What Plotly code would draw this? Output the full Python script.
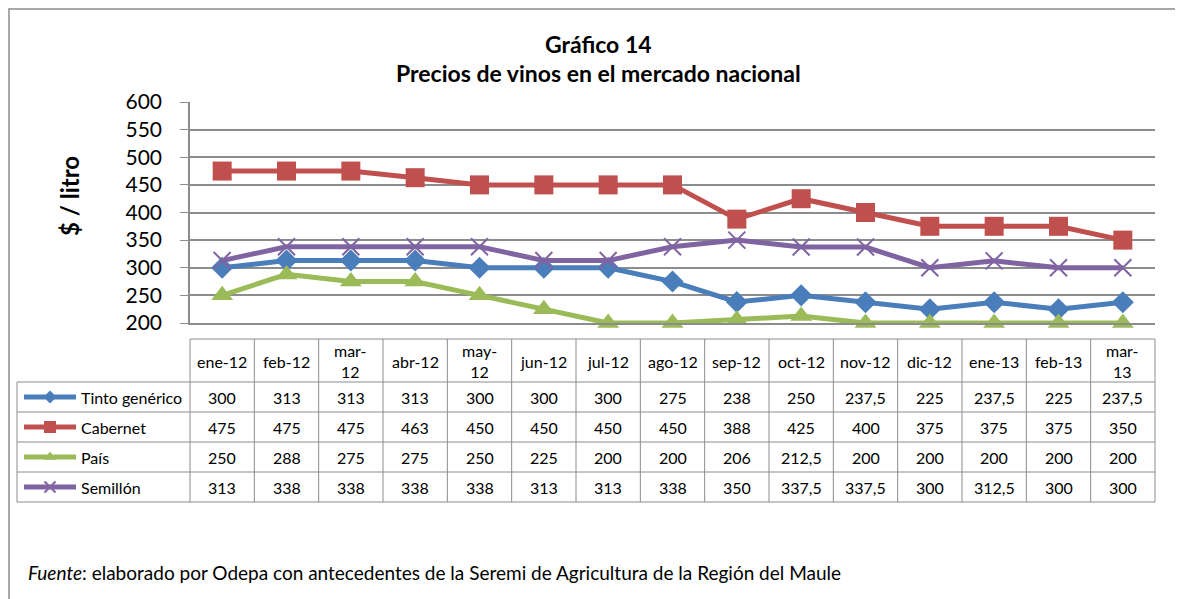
import plotly.graph_objects as go

W, H = 1183, 599
OFF = 8  # page body margin offset of the html page

months = ["ene-12", "feb-12", "mar-12", "abr-12", "may-12", "jun-12", "jul-12", "ago-12",
          "sep-12", "oct-12", "nov-12", "dic-12", "ene-13", "feb-13", "mar-13"]
header_labels = ["ene-12", "feb-12", "mar-<br>12", "abr-12", "may-<br>12", "jun-12", "jul-12", "ago-12",
                 "sep-12", "oct-12", "nov-12", "dic-12", "ene-13", "feb-13", "mar-<br>13"]

tinto = [300, 313, 313, 313, 300, 300, 300, 275, 238, 250, 237.5, 225, 237.5, 225, 237.5]
cabernet = [475, 475, 475, 463, 450, 450, 450, 450, 388, 425, 400, 375, 375, 375, 350]
pais = [250, 288, 275, 275, 250, 225, 200, 200, 206, 212.5, 200, 200, 200, 200, 200]
semillon = [313, 338, 338, 338, 338, 313, 313, 338, 350, 337.5, 337.5, 300, 312.5, 300, 300]

series_names = ["Tinto genérico", "Cabernet", "País", "Semillón"]
series_values = [tinto, cabernet, pais, semillon]
colors = ["#4A7EBB", "#C0504D", "#9BBB59", "#8064A2"]
symbols = ["diamond", "square", "triangle-up", "x-thin"]
msizes = [17, 19, 19, 17]
key_sizes = [10, 12, 11, 11]

FONT = "Lato, 'Open Sans', sans-serif"
GRID = "#8C8C8C"


def px_x(p):
    return (p - OFF) / W


def px_y(p):
    return 1 - (p - OFF) / H


def fmt(v):
    if float(v).is_integer():
        return str(int(v))
    return str(v).replace(".", ",")


fig = go.Figure()

for name, vals, col, sym, ms in zip(series_names, series_values, colors, symbols, msizes):
    if sym == "x-thin":
        marker = dict(symbol=sym, size=ms, color=col, line=dict(color=col, width=2))
    else:
        marker = dict(symbol=sym, size=ms, color=col, line=dict(width=0))
    fig.add_trace(go.Scatter(
        x=list(range(len(months))), y=vals, name=name, mode="lines+markers",
        line=dict(color=col, width=5), marker=marker, cliponaxis=False,
        showlegend=False, xaxis="x", yaxis="y"))

# legend keys of the data table, drawn in a full-page pixel-space axis
row_centers = [397, 427, 457, 487]
for name, col, sym, ks, rc in zip(series_names, colors, symbols, key_sizes, row_centers):
    if sym == "x-thin":
        marker = dict(symbol=sym, size=ks, color=col, line=dict(color=col, width=2))
    else:
        marker = dict(symbol=sym, size=ks, color=col, line=dict(width=0))
    fig.add_trace(go.Scatter(x=[24, 76], y=[rc, rc], mode="lines", line=dict(color=col, width=5),
                             showlegend=False, xaxis="x2", yaxis="y2", hoverinfo="skip"))
    fig.add_trace(go.Scatter(x=[50], y=[rc], mode="markers", marker=marker,
                             showlegend=False, xaxis="x2", yaxis="y2", hoverinfo="skip"))

annotations = []
annotations.append(dict(text="<b>Gráfico 14</b>", x=px_x(598), y=px_y(44), xref="paper", yref="paper",
                        showarrow=False, font=dict(family=FONT, size=23, color="black"),
                        xanchor="center", yanchor="middle"))
annotations.append(dict(text="<b>Precios de vinos en el mercado nacional</b>", x=px_x(598), y=px_y(73),
                        xref="paper", yref="paper", showarrow=False,
                        font=dict(family=FONT, size=23, color="black"), xanchor="center", yanchor="middle"))
annotations.append(dict(text="<b>$ / litro</b>", x=px_x(69), y=px_y(196), xref="paper", yref="paper",
                        showarrow=False, textangle=-90, font=dict(family=FONT, size=24, color="black"),
                        xanchor="center", yanchor="middle"))
for i, lab in enumerate(header_labels):
    annotations.append(dict(text=lab, x=i, y=px_y(361), xref="x", yref="paper", showarrow=False,
                            font=dict(family=FONT, size=16, color="black"), xanchor="center",
                            yanchor="middle"))
for name, vals, rc in zip(series_names, series_values, row_centers):
    annotations.append(dict(text=name, x=px_x(79), y=px_y(rc), xref="paper", yref="paper",
                            showarrow=False, font=dict(family=FONT, size=16, color="black"),
                            xanchor="left", yanchor="middle"))
    for i, v in enumerate(vals):
        annotations.append(dict(text=fmt(v), x=i, y=px_y(rc), xref="x", yref="paper", showarrow=False,
                                font=dict(family=FONT, size=16, color="black"), xanchor="center",
                                yanchor="middle"))
annotations.append(dict(text="<i>Fuente</i>: elaborado por Odepa con antecedentes de la Seremi de Agricultura de la Región del Maule",
                        x=px_x(26), y=px_y(572), xref="paper", yref="paper", showarrow=False,
                        font=dict(family=FONT, size=19, color="black"), xanchor="left", yanchor="middle"))

shapes = []
shapes.append(dict(type="rect", xref="paper", yref="paper", x0=px_x(9), y0=px_y(9), x1=px_x(1250),
                   y1=px_y(700), line=dict(color="#8C8C8C", width=1.5)))
left_tab, x_start, x_end = 17, 190, 1155
row_lines = [382, 412, 442, 472, 502]
shapes.append(dict(type="line", xref="paper", yref="paper", x0=px_x(x_start), x1=px_x(x_end),
                   y0=px_y(339), y1=px_y(339), line=dict(color=GRID, width=1)))
for r in row_lines:
    shapes.append(dict(type="line", xref="paper", yref="paper", x0=px_x(left_tab), x1=px_x(x_end),
                       y0=px_y(r), y1=px_y(r), line=dict(color=GRID, width=1)))
shapes.append(dict(type="line", xref="paper", yref="paper", x0=px_x(left_tab), x1=px_x(left_tab),
                   y0=px_y(382), y1=px_y(502), line=dict(color=GRID, width=1)))
n = len(months)
for k in range(n + 1):
    xp = x_start + (x_end - x_start) * k / n
    shapes.append(dict(type="line", xref="paper", yref="paper", x0=px_x(xp), x1=px_x(xp),
                       y0=px_y(339), y1=px_y(502), line=dict(color=GRID, width=1)))

fig.update_layout(
    width=W, height=H, margin=dict(l=0, r=0, t=0, b=0, pad=0, autoexpand=False),
    paper_bgcolor="white", plot_bgcolor="rgba(0,0,0,0)",
    xaxis=dict(domain=[px_x(190), px_x(1155)], range=[-0.5, n - 0.5], showticklabels=False,
               showgrid=False, zeroline=False, showline=True, linecolor=GRID, linewidth=1.5, ticks="",
               automargin=False, anchor="y"),
    yaxis=dict(domain=[px_y(323), px_y(102)], range=[200, 600], dtick=50, tick0=200,
               showgrid=True, gridcolor=GRID, gridwidth=1.5, zeroline=False,
               showline=True, linecolor=GRID, linewidth=1.5, ticks="outside", ticklen=8,
               tickcolor=GRID, ticklabelstandoff=14, automargin=False, anchor="x",
               tickfont=dict(family=FONT, size=21, color="black")),
    xaxis2=dict(domain=[0, 1], range=[OFF, OFF + W], visible=False, anchor="y2", automargin=False),
    yaxis2=dict(domain=[0, 1], range=[OFF + H, OFF], visible=False, anchor="x2", automargin=False),
    annotations=annotations, shapes=shapes,
)

fig.write_html("out.html")
